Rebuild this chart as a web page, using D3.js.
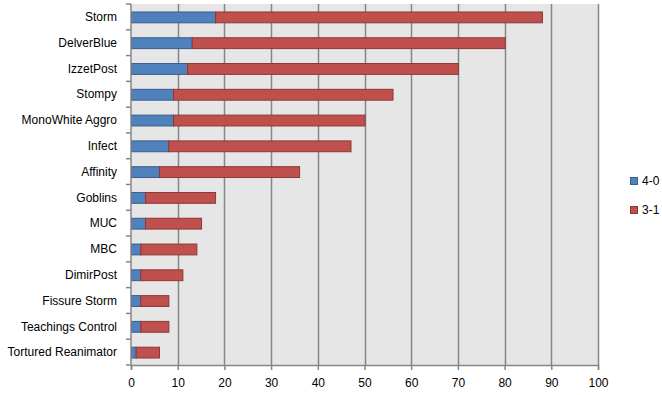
<!DOCTYPE html>
<html>
<head>
<meta charset="utf-8">
<script src="https://cdn.jsdelivr.net/npm/d3@7"></script>
<style>
  body { margin: 0; background: #fff; }
  svg text { font-family: "Liberation Sans", Arial, sans-serif; fill: #000; }
</style>
</head>
<body>
<div id="chart"></div>
<script>
const categories = ['Storm', 'DelverBlue', 'IzzetPost', 'Stompy', 'MonoWhite Aggro', 'Infect', 'Affinity',
  'Goblins', 'MUC', 'MBC', 'DimirPost', 'Fissure Storm', 'Teachings Control', 'Tortured Reanimator'];
const wins40 = [18, 13, 12, 9, 9, 8, 6, 3, 3, 2, 2, 2, 2, 1];
const wins31 = [70, 67, 58, 47, 41, 39, 30, 15, 12, 12, 9, 6, 6, 5];
const seriesNames = ['4-0', '3-1'];
const xTicks = [0, 10, 20, 30, 40, 50, 60, 70, 80, 90, 100];

const width = 662, height = 395;
const margin = { top: 4, right: 64, bottom: 30, left: 131 };
const w = width - margin.left - margin.right;
const h = height - margin.top - margin.bottom;

const colors = { '4-0': '#4F81BD', '3-1': '#C0504D' };
const strokes = { '4-0': '#385D8A', '3-1': '#8C3836' };

const rows = categories.map((c, i) => ({ cat: c, '4-0': wins40[i], '3-1': wins31[i] }));
const stacked = d3.stack().keys(seriesNames)(rows);

const svg = d3.select('#chart').append('svg').attr('width', width).attr('height', height);
const g = svg.append('g').attr('transform', `translate(${margin.left},${margin.top})`);

const x = d3.scaleLinear().domain([0, 100]).range([0, w]);
const y = d3.scaleBand().domain(categories).range([0, h]).paddingInner(0.58).paddingOuter(0.29);
const yb = d3.scaleBand().domain(categories).range([0, h]);

// plot background
g.append('rect').attr('width', w).attr('height', h).attr('fill', '#E6E6E6');

// vertical gridlines
g.selectAll('line.grid')
  .data(xTicks.slice(1))
  .join('line')
  .attr('class', 'grid')
  .attr('x1', d => Math.round(x(d)) + 0.5).attr('x2', d => Math.round(x(d)) + 0.5)
  .attr('y1', 0).attr('y2', h)
  .attr('stroke', '#868686').attr('stroke-width', 1.5);

// bars
g.selectAll('g.series')
  .data(stacked)
  .join('g')
  .attr('class', 'series')
  .attr('fill', d => colors[d.key])
  .attr('stroke', d => strokes[d.key])
  .selectAll('rect')
  .data(d => d)
  .join('rect')
  .attr('x', d => x(d[0]) + 0.5)
  .attr('y', d => y(d.data.cat) + 0.5)
  .attr('width', d => x(d[1]) - x(d[0]))
  .attr('height', y.bandwidth())
  .attr('stroke-width', 1);

// bottom axis
const xAxis = g.append('g')
  .attr('transform', `translate(0,${h})`)
  .call(d3.axisBottom(x).tickValues(xTicks).tickSize(5).tickPadding(8));
xAxis.select('.domain').attr('stroke', '#868686').attr('stroke-width', 1.5);
xAxis.selectAll('.tick line').attr('stroke', '#868686').attr('stroke-width', 1.5);
xAxis.selectAll('.tick text').style('font-size', '12px');

// left axis: line + ticks at category boundaries
g.append('line').attr('x1', 0).attr('x2', 0).attr('y1', 0).attr('y2', h)
  .attr('stroke', '#868686').attr('stroke-width', 1.5);
g.selectAll('line.ytick')
  .data(categories.concat(['__end']))
  .join('line')
  .attr('class', 'ytick')
  .attr('x1', -5).attr('x2', 0)
  .attr('y1', (d, i) => i < categories.length ? yb(d) : h)
  .attr('y2', (d, i) => i < categories.length ? yb(d) : h)
  .attr('stroke', '#868686').attr('stroke-width', 1.5);

g.selectAll('text.cat')
  .data(categories)
  .join('text')
  .attr('class', 'cat')
  .attr('x', -14)
  .attr('y', d => yb(d) + yb.bandwidth() / 2)
  .attr('dy', '0.35em')
  .attr('text-anchor', 'end')
  .style('font-size', '12px')
  .text(d => d);

// legend
const legend = svg.append('g').attr('transform', 'translate(630,177)');
seriesNames.forEach((s, i) => {
  const lg = legend.append('g').attr('transform', `translate(0,${i * 29})`);
  lg.append('rect').attr('x', 0.5).attr('y', 0.5).attr('width', 7).attr('height', 7)
    .attr('fill', colors[s]).attr('stroke', strokes[s]);
  lg.append('text').attr('x', 12).attr('y', 4).attr('dy', '0.35em')
    .style('font-size', '12px').text(s);
});
</script>
</body>
</html>
